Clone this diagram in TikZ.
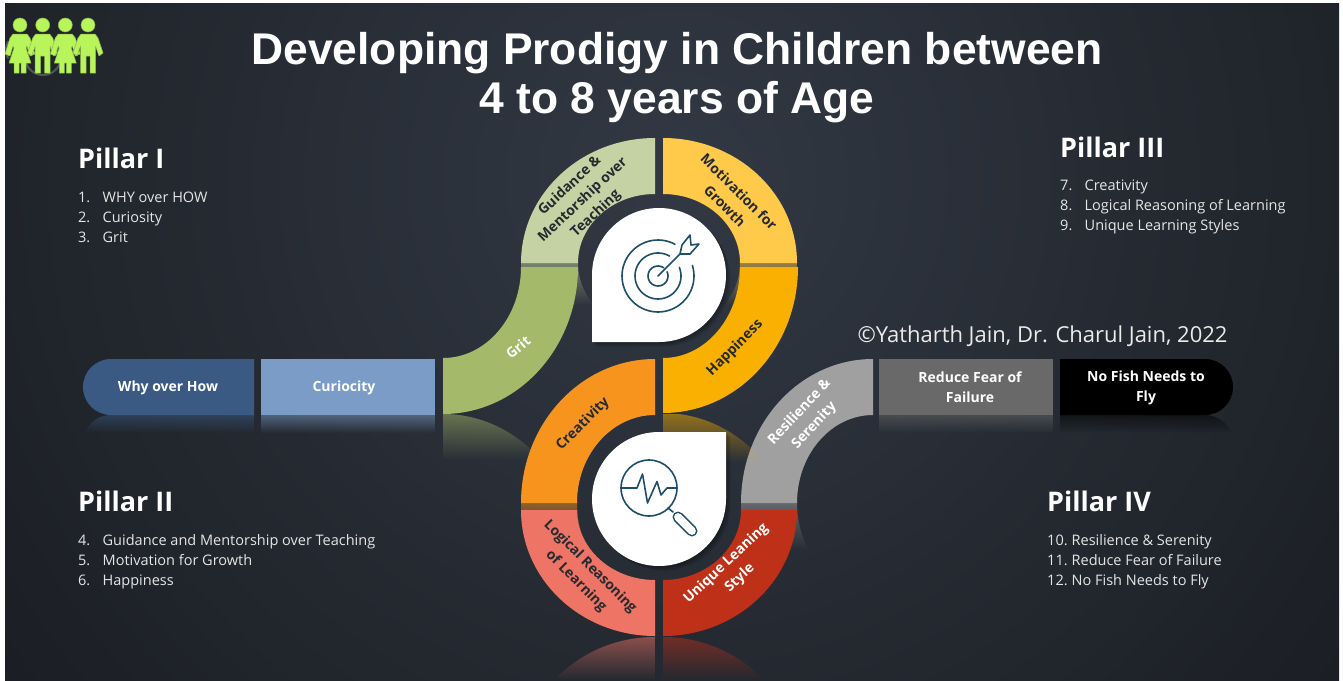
\documentclass[tikz,border=0pt]{standalone}
\usepackage{fontspec}
\setmainfont{Open Sans}
\newfontfamily\titlefont{Liberation Sans}
\usetikzlibrary{fadings}
\definecolor{bgA}{HTML}{323944}
\definecolor{bgB}{HTML}{191C21}
\definecolor{cWhy}{HTML}{3A5A84}
\definecolor{cCur}{HTML}{7A9CC6}
\definecolor{cGrit}{HTML}{A4B96A}
\definecolor{cGui}{HTML}{C5D3A4}
\definecolor{cMot}{HTML}{FFCA4A}
\definecolor{cHap}{HTML}{F9B000}
\definecolor{cCre}{HTML}{F7941D}
\definecolor{cLog}{HTML}{EE7565}
\definecolor{cUni}{HTML}{BE3018}
\definecolor{cRes}{HTML}{A0A0A0}
\definecolor{cRed}{HTML}{696969}
\definecolor{cIcon}{HTML}{1D4F6B}
\definecolor{cPeople}{HTML}{B8F55A}
\definecolor{cPeopleE}{HTML}{8DB84C}
\definecolor{txtD}{HTML}{262A30}
\tikzfading[name=reflfade, top color=transparent!50, bottom color=transparent!100]
\newcommand\quadseg[8]{({#1+#7*#3},{#2}) .. controls ({#1+#7*#3},{#2+#8*.5523*#4}) and ({#1+#7*.5523*#3},{#2+#8*#4}) .. ({#1},{#2+#8*#4}) -- ({#1},{#2+#8*#6}) .. controls ({#1+#7*.5523*#5},{#2+#8*#6}) and ({#1+#7*#5},{#2+#8*.5523*#6}) .. ({#1+#7*#5},{#2}) -- cycle}
\newcommand\mirrorfill[6]{\begin{scope}\clip #1;\fill[#2,path fading=reflfade] (#3,#4) rectangle (#5,#6);\end{scope}}
\newcommand\dropup{(592,342) -- (592,275) .. controls (592,238) and (622,208) .. (659,208) .. controls (696,208) and (726,238) .. (726,275) .. controls (726,312) and (696,342) .. (659,342) -- cycle}
\newcommand\dropdown{(726,432) -- (726,499) .. controls (726,536) and (696,566) .. (659,566) .. controls (622,566) and (592,536) .. (592,499) .. controls (592,462) and (622,432) .. (659,432) -- cycle}
\newcommand\whybar[1]{(254,{359+#1}) -- (111,{359+#1}) .. controls (95.5,{359+#1}) and (83,{371.5+#1}) .. (83,{387+#1}) .. controls (83,{402.5+#1}) and (95.5,{415+#1}) .. (111,{415+#1}) -- (254,{415+#1}) -- cycle}
\newcommand\fishbar[1]{(1060,{359+#1}) -- (1205,{359+#1}) .. controls (1220.5,{359+#1}) and (1233,{371.5+#1}) .. (1233,{387+#1}) .. controls (1233,{402.5+#1}) and (1220.5,{415+#1}) .. (1205,{415+#1}) -- (1060,{415+#1}) -- cycle}
\newcommand\girl[1]{%
 \fill[cPeople,draw=cPeopleE,line width=.5pt] (#1,25) circle[radius=7pt];
 \fill[cPeople,draw=cPeopleE,line width=.5pt,line join=round] ({#1-7},34) -- ({#1+7},34) -- ({#1+10},38) -- ({#1+15},54) -- ({#1+10},56) -- ({#1+7},46) -- ({#1+6},48) -- ({#1+11},63) -- ({#1+6},63) -- ({#1+6},73) -- ({#1+1},73) -- ({#1+1},63) -- ({#1-1},63) -- ({#1-1},73) -- ({#1-6},73) -- ({#1-6},63) -- ({#1-11},63) -- ({#1-6},48) -- ({#1-7},46) -- ({#1-10},56) -- ({#1-15},54) -- ({#1-10},38) -- cycle;}
\newcommand\boy[1]{%
 \fill[cPeople,draw=cPeopleE,line width=.5pt] (#1,25) circle[radius=7pt];
 \fill[cPeople,draw=cPeopleE,line width=.5pt,line join=round] ({#1-7},34) -- ({#1+7},34) -- ({#1+10},38) -- ({#1+15},53) -- ({#1+11},56) -- ({#1+7.5},46) -- ({#1+7.5},73) -- ({#1+2},73) -- ({#1+2},56) -- ({#1-2},56) -- ({#1-2},73) -- ({#1-7.5},73) -- ({#1-7.5},46) -- ({#1-11},56) -- ({#1-15},53) -- ({#1-10},38) -- cycle;}
\tikzset{
 segtext/.style={font=\bfseries\fontsize{14}{20}\selectfont,align=center,inner sep=0pt},
 bartext/.style={font=\bfseries\fontsize{14}{20}\selectfont,align=center,inner sep=0pt,text=white},
 pillar/.style={font=\bfseries\fontsize{27}{32}\selectfont,anchor=west,inner sep=0pt,text=white,text height=20pt,text depth=0pt},
 listitem/.style={font=\fontsize{14.5}{17}\selectfont,anchor=west,inner sep=0pt,text=white!90!black,text height=11pt,text depth=3pt},
 titleline/.style={font=\titlefont\bfseries\fontsize{44.4}{50}\selectfont,inner sep=0pt,text=white,text height=32pt,text depth=9pt},
 iconline/.style={draw=cIcon,line width=1.6pt,line cap=round,line join=round}
}
\newcommand\li[2]{\makebox[24.5pt][l]{#1}#2}
\begin{document}
\begin{tikzpicture}[x=1pt,y=-1pt]
\useasboundingbox (0,0) rectangle (1343,680);
\fill[white] (0,0) rectangle (1343,680);
\begin{scope}
 \clip (5,3) rectangle (1339,680);
 \shade[inner color=bgA,outer color=bgB] (-223,-720) rectangle (1577,1080);
\end{scope}
% people
\draw[white!25!bgB,line width=2pt] (43,57) circle[radius=18pt];
\draw[white!25!bgB,line width=2pt] plot[domain=150:210,samples=10] ({23+17*cos(\x)},{50-17*sin(\x)});
\girl{20}\boy{42.7}\girl{65.3}\boy{88}
% reflections lying under the segments
\mirrorfill{\quadseg{655}{263}{134}{125}{77}{69}{-1}{1}}{cGui}{521}{263}{655}{305}
\mirrorfill{\quadseg{663}{263}{134}{125}{77}{69}{1}{1}}{cMot}{663}{263}{797}{305}
\mirrorfill{\quadseg{655}{503}{134}{144}{78}{88}{-1}{1}}{cCre}{521}{503}{655}{545}
\mirrorfill{\quadseg{873}{503}{132}{144}{76}{88}{-1}{1}}{cRes}{741}{503}{873}{550}
\mirrorfill{\quadseg{443}{561}{135}{147}{78}{91}{1}{-1}}{cGrit}{443}{414}{578}{460}
\mirrorfill{\quadseg{655}{764}{134}{127}{78}{70}{-1}{-1}}{cLog}{521}{637}{655}{680}
\mirrorfill{\quadseg{663}{764}{134}{127}{78}{70}{1}{-1}}{cUni}{663}{637}{797}{680}
\mirrorfill{\whybar{56}}{cWhy}{83}{415}{254}{433}
\mirrorfill{(261,415) rectangle (435,433)}{cCur}{261}{415}{435}{433}
\mirrorfill{(879,415) rectangle (1053,433)}{cRed}{879}{415}{1053}{433}
\mirrorfill{\fishbar{56}}{black}{1060}{415}{1233}{433}
% bars
\fill[cWhy] \whybar{0};
\fill[cCur] (261,359) rectangle (435,415);
\fill[cRed] (879,359) rectangle (1053,415);
\fill[black] \fishbar{0};
% segments
\fill[cGui] \quadseg{655}{263}{134}{125}{77}{69}{-1}{-1};
\fill[cMot] \quadseg{663}{263}{134}{125}{77}{69}{1}{-1};
\fill[cGrit] \quadseg{443}{267}{135}{147}{78}{91}{1}{1};
\fill[cHap] \quadseg{663}{267}{135}{146}{77}{91}{1}{1};
\fill[cCre] \quadseg{655}{503}{134}{144}{78}{88}{-1}{-1};
\fill[cRes] \quadseg{873}{503}{132}{144}{76}{88}{-1}{-1};
\fill[cLog] \quadseg{655}{510}{134}{126}{78}{70}{-1}{1};
\fill[cUni] \quadseg{663}{510}{134}{126}{78}{70}{1}{1};
\mirrorfill{\quadseg{663}{559}{135}{146}{77}{91}{1}{-1}}{cHap}{663}{414}{798}{462}
% drops with soft shadow
\foreach \s in {1,2,...,6}{
 \fill[black,opacity=.06,shift={(\s*.8,\s*.8)}] \dropup;
 \fill[black,opacity=.06,shift={(\s*.8,\s*.8)}] \dropdown;
}
\fill[white] \dropup;
\fill[white] \dropdown;
% target icon
\draw[iconline] plot[domain=62:377,samples=60] ({658+36*cos(\x)},{276-36*sin(\x)});
\draw[iconline] plot[domain=60:382,samples=50] ({658+23*cos(\x)},{276-23*sin(\x)});
\draw[iconline] plot[domain=55:385,samples=30] ({658+10*cos(\x)},{276-10*sin(\x)});
\draw[iconline] (658,276) -- (680,254);
\draw[iconline] (680,254) -- (682,245) -- (690,235) -- (691,245) -- (699,244) -- (690,254) -- (680,254);
% magnifier icon
\draw[iconline] (649,488) circle[radius=28pt];
\draw[iconline] (622,488) -- (637,488) -- (642.5,474) -- (647.5,503) -- (657,481.5) -- (661,495) -- (667,488) -- (677,488);
\draw[iconline] (668,508) -- (673,512);
\draw[cIcon,line width=11pt,line cap=round] (678,517) -- (692,531);
\draw[white,line width=7.8pt,line cap=round] (678,517) -- (692,531);
% title
\node[titleline] (t1) at (677,53) {Developing Prodigy in Children between};
\node[titleline] (t2) at (677,101.5) {4 to 8 years of Age};
% pillars
\node[pillar] (p1) at (78,158) {Pillar I};
\node[listitem] (p1a) at (78,198) {\li{1.}{WHY over HOW}};
\node[listitem] (p1b) at (78,218) {\li{2.}{Curiosity}};
\node[listitem] (p1c) at (78,238) {\li{3.}{Grit}};
\node[pillar] (p2) at (78,501) {Pillar II};
\node[listitem] (p2a) at (78,541.5) {\li{4.}{Guidance and Mentorship over Teaching}};
\node[listitem] (p2b) at (78,561.5) {\li{5.}{Motivation for Growth}};
\node[listitem] (p2c) at (78,581.5) {\li{6.}{Happiness}};
\node[pillar] (p3) at (1060,147) {Pillar III};
\node[listitem] (p3a) at (1060,186) {\li{7.}{Creativity}};
\node[listitem] (p3b) at (1060,206) {\li{8.}{Logical Reasoning of Learning}};
\node[listitem] (p3c) at (1060,226) {\li{9.}{Unique Learning Styles}};
\node[pillar] (p4) at (1047,501) {Pillar IV};
\node[listitem] (p4a) at (1047,541.5) {\li{10.}{Resilience \& Serenity}};
\node[listitem] (p4b) at (1047,561.5) {\li{11.}{Reduce Fear of Failure}};
\node[listitem] (p4c) at (1047,581.5) {\li{12.}{No Fish Needs to Fly}};
\node[inner sep=0pt,anchor=center,text=white!92!black,font=\fontsize{22}{26}\selectfont] (copy) at (1042.5,336) {©Yatharth Jain, Dr. Charul Jain, 2022};
% bar labels
\node[bartext] (why) at (168,388) {Why over How};
\node[bartext] (cur) at (344,388) {Curiocity};
\node[bartext] (red) at (970,387.5) {Reduce Fear of\\Failure};
\node[bartext] (fish) at (1146,387.5) {No Fish Needs to\\Fly};
% segment labels
\node[segtext,text=txtD,rotate=43,font=\bfseries\fontsize{14}{19}\selectfont] (gui) at (583,200) {Guidance \&\\Mentorship over\\Teaching};
\node[segtext,text=txtD,rotate=-45] (mot) at (732,199) {Motivation for\\Growth};
\node[segtext,text=white,rotate=40] (gri) at (518,347) {Grit};
\node[segtext,text=txtD,rotate=45] (hap) at (735,348) {Happiness};
\node[segtext,text=txtD,rotate=45] (cre) at (583,424) {Creativity};
\node[segtext,text=white,rotate=47] (res) at (807,419) {Resilience \&\\Serenity};
\node[segtext,text=txtD,rotate=-45] (log) at (583,574) {Logical Reasoning\\of Learning};
\node[segtext,text=white,rotate=43] (uni) at (733,571) {Unique Leaning\\Style};
\end{tikzpicture}
\end{document}
